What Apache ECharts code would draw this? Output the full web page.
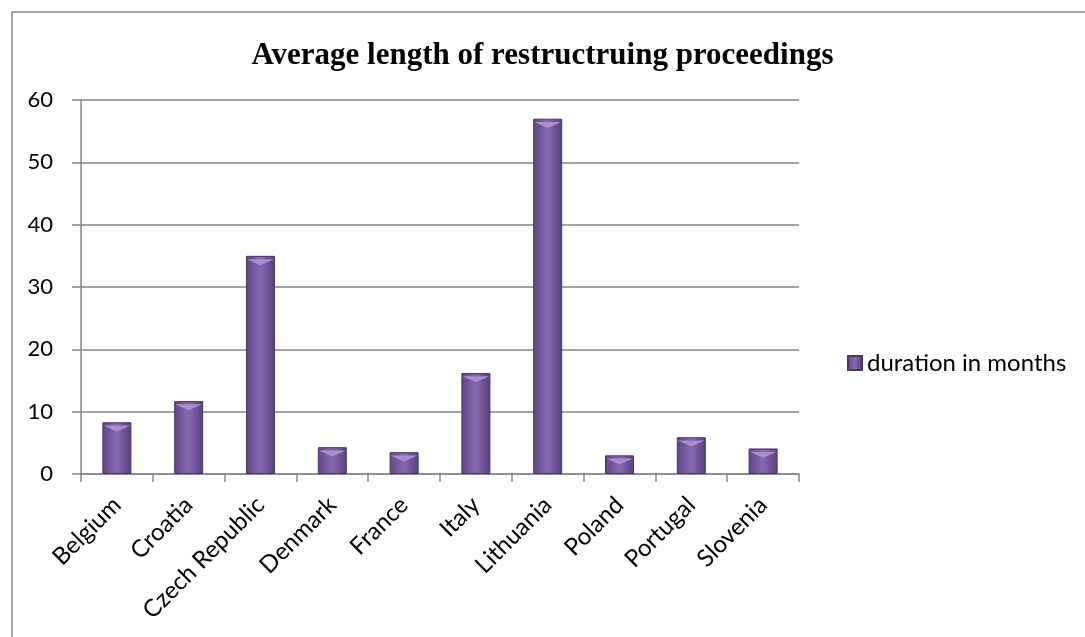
<!DOCTYPE html>
<html>
<head>
<meta charset="utf-8">
<script src="https://cdn.jsdelivr.net/npm/echarts@6/dist/echarts.min.js"></script>
<style>
    html, body {margin: 0; padding: 0; background: #fff;}
    #main {width: 1085px; height: 637px;}
</style>
</head>
<body>
<div id="main"></div>
<script>
var countries = ['Belgium', 'Croatia', 'Czech Republic', 'Denmark', 'France', 'Italy', 'Lithuania', 'Poland', 'Portugal', 'Slovenia'];
var months = [8.3, 11.7, 35, 4.3, 3.5, 16.2, 57, 3, 5.9, 4.1];
var yTicks = [0, 10, 20, 30, 40, 50, 60];

//柱子颜色（模仿 Excel 斜面效果）
var barColor = new echarts.graphic.LinearGradient(0, 0, 1, 0, [
    {offset: 0, color: '#5d4581'},
    {offset: 0.45, color: '#8467b0'},
    {offset: 0.55, color: '#8266ad'},
    {offset: 1, color: '#563f78'}
]);

var option = {
    animation: false,
    backgroundColor: '#fff',
    graphic: [
        {
            type: 'rect',
            shape: {x: 12, y: 12, width: 1100, height: 700},
            style: {fill: 'none', stroke: '#8a8a8a', lineWidth: 1.5}
        }
    ],
    title: {
        text: 'Average length of restructruing proceedings',
        left: 'center',
        top: 35,
        textStyle: {
            fontFamily: 'Liberation Serif',
            fontWeight: 'bold',
            fontSize: 31,
            color: '#000'
        }
    },
    legend: {
        data: ['duration in months'],
        left: 842,
        top: 346,
        icon: 'rect',
        itemWidth: 14,
        itemHeight: 14,
        itemGap: 6,
        textStyle: {fontFamily: 'Lato', fontSize: 24, color: '#000'}
    },
    grid: {
        left: 81,
        right: 286,
        top: 100,
        bottom: 163
    },
    xAxis: {
        type: 'category',
        data: countries,
        axisLine: {lineStyle: {color: '#868686', width: 1.5}},
        axisTick: {show: true, length: 8, lineStyle: {color: '#868686', width: 1.5}},
        axisLabel: {
            rotate: 45,
            interval: 0,
            margin: 27,
            fontFamily: 'Lato',
            fontSize: 24,
            color: '#000'
        }
    },
    yAxis: {
        type: 'value',
        min: yTicks[0],
        max: yTicks[yTicks.length - 1],
        interval: 10,
        axisLine: {show: true, lineStyle: {color: '#868686', width: 1.5}},
        axisTick: {show: true, length: 9, lineStyle: {color: '#868686', width: 1.5}},
        splitLine: {lineStyle: {color: '#868686', width: 1.5}},
        axisLabel: {
            margin: 28,
            fontFamily: 'Lato',
            fontSize: 22,
            color: '#000'
        }
    },
    series: [
        {
            name: 'duration in months',
            type: 'bar',
            data: months,
            barWidth: 29,
            itemStyle: {
                color: barColor,
                borderColor: '#4a3668',
                borderWidth: 1
            }
        },
        {
            //柱顶的斜面三角
            name: 'bevel',
            type: 'pictorialBar',
            data: months,
            symbol: 'path://M0,0 L10,0 L5,6 Z',
            symbolSize: [27, 6],
            symbolPosition: 'end',
            symbolOffset: [0, '55%'],
            silent: true,
            z: 3,
            itemStyle: {color: '#a68fd2'}
        }
    ]
};

var chart = echarts.init(document.getElementById('main'));
chart.setOption(option);
</script>
</body>
</html>
